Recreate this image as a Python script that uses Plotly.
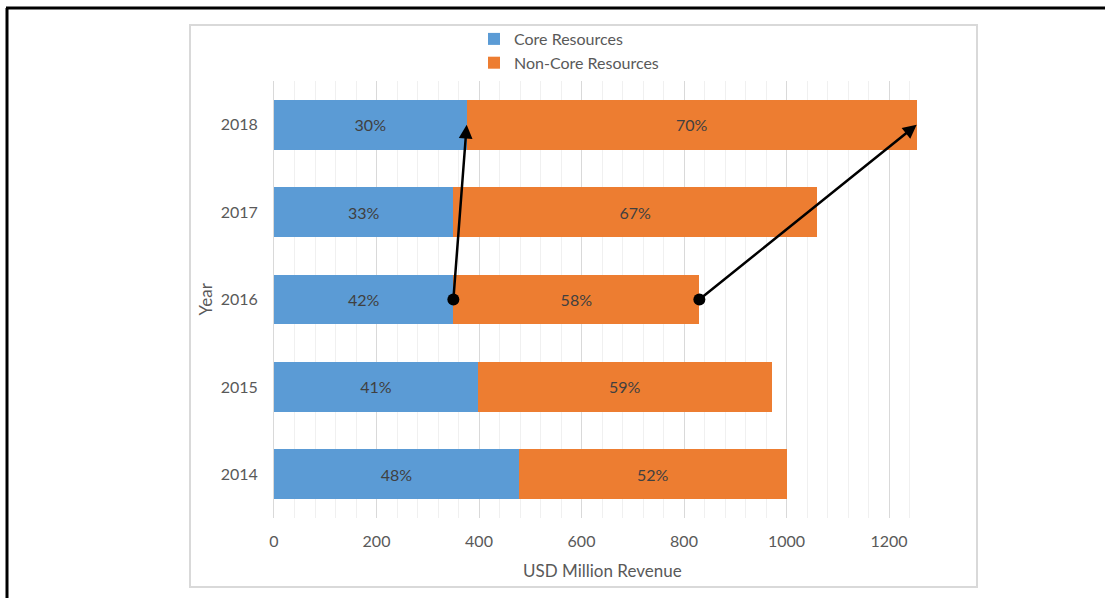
import plotly.graph_objects as go

# Dados (USD milhões)
anos = ["2014", "2015", "2016", "2017", "2018"]
core = [478, 398, 350, 350, 376]
non_core = [522, 573, 480, 710, 878]
rotulos_core = ["48%", "41%", "42%", "33%", "30%"]
rotulos_non_core = ["52%", "59%", "58%", "67%", "70%"]

AZUL = "#5B9BD5"
LARANJA = "#ED7D31"
CINZA_TXT = "#595959"
FONTE = "Lato, 'Open Sans', sans-serif"

W, H = 1105, 598
# área do gráfico em pixels
PX0, PX1, PY0, PY1 = 274, 930, 81, 518


def px_x(px):
    return (px - PX0) / (PX1 - PX0)


def px_y(py):
    return (PY1 - py) / (PY1 - PY0)


fig = go.Figure()

fig.add_trace(go.Bar(
    y=anos, x=core, orientation="h", name="Core Resources",
    marker=dict(color=AZUL, line=dict(width=0)),
    text=rotulos_core, textposition="inside", insidetextanchor="middle",
    textfont=dict(color="#404040", size=16, family=FONTE),
    legendgroup="a", hoverinfo="skip",
))
fig.add_trace(go.Bar(
    y=anos, x=non_core, orientation="h", name="Non-Core Resources",
    marker=dict(color=LARANJA, line=dict(width=0)),
    text=rotulos_non_core, textposition="inside", insidetextanchor="middle",
    textfont=dict(color="#404040", size=16, family=FONTE),
    legendgroup="b", hoverinfo="skip",
))

# setas: de 2016 para 2018
i16, i18 = anos.index("2016"), anos.index("2018")
total = [c + n for c, n in zip(core, non_core)]

fig.add_trace(go.Scatter(
    x=[core[i16], total[i16]], y=[anos[i16], anos[i16]], mode="markers",
    marker=dict(color="black", size=12), showlegend=False, hoverinfo="skip",
))

for x_ini, x_fim in [(core[i16], core[i18]), (total[i16], total[i18])]:
    fig.add_annotation(
        x=x_fim, y=i18, ax=x_ini, ay=i16,
        xref="x", yref="y", axref="x", ayref="y",
        showarrow=True, arrowhead=2, arrowsize=1.1, arrowwidth=2.5,
        arrowcolor="black", text="", standoff=0, startstandoff=0,
    )

# títulos dos eixos
fig.add_annotation(
    text="USD Million Revenue", x=0.5, y=px_y(570), xref="paper", yref="paper",
    showarrow=False, font=dict(size=17, color=CINZA_TXT, family=FONTE),
    xanchor="center", yanchor="middle",
)
fig.add_annotation(
    text="Year", x=px_x(205), y=0.5, xref="paper", yref="paper", textangle=-90,
    showarrow=False, font=dict(size=17, color=CINZA_TXT, family=FONTE),
    xanchor="center", yanchor="middle",
)

# moldura interna cinza e borda preta externa
fig.add_shape(type="rect", xref="paper", yref="paper",
              x0=px_x(190), x1=px_x(977), y0=px_y(587), y1=px_y(25),
              line=dict(color="#D9D9D9", width=2), layer="below")
fig.add_shape(type="line", xref="paper", yref="paper",
              x0=px_x(6), x1=px_x(1110), y0=px_y(8), y1=px_y(8),
              line=dict(color="black", width=3))
fig.add_shape(type="line", xref="paper", yref="paper",
              x0=px_x(7), x1=px_x(7), y0=px_y(8), y1=px_y(610),
              line=dict(color="black", width=3))

fig.update_layout(
    width=W, height=H,
    margin=dict(l=PX0, r=W - PX1, t=PY0, b=H - PY1, pad=0),
    barmode="stack", bargap=0.43,
    plot_bgcolor="white", paper_bgcolor="white",
    font=dict(family=FONTE, color=CINZA_TXT, size=16),
    legend=dict(
        x=px_x(474), y=px_y(22), xanchor="left", yanchor="top",
        orientation="v", traceorder="grouped", tracegroupgap=0,
        font=dict(size=16, color=CINZA_TXT, family=FONTE),
        bgcolor="rgba(0,0,0,0)", itemwidth=30,
    ),
    uniformtext=dict(mode="show", minsize=10),
)

fig.update_xaxes(
    range=[0, 1280], tick0=0, dtick=200, showgrid=True, gridcolor="#D9D9D9",
    gridwidth=1, zeroline=False, showline=False,
    ticks="outside", ticklen=9, tickcolor="rgba(0,0,0,0)",
    tickfont=dict(size=16, color=CINZA_TXT, family=FONTE),
    minor=dict(dtick=40, tick0=0, showgrid=True, gridcolor="#F0F0F0", gridwidth=1),
)
fig.update_yaxes(
    type="category", categoryorder="array", categoryarray=anos,
    showgrid=False, zeroline=False, showline=True, linecolor="#D9D9D9", linewidth=1,
    ticks="outside", ticklen=12, tickcolor="rgba(0,0,0,0)",
    tickfont=dict(size=16, color=CINZA_TXT, family=FONTE),
)

# remove a margem padrão do <body> para alinhar a figura ao canto da janela
fig.write_html("out.html", config={"displayModeBar": False},
               post_script="document.body.style.margin='0px';")
